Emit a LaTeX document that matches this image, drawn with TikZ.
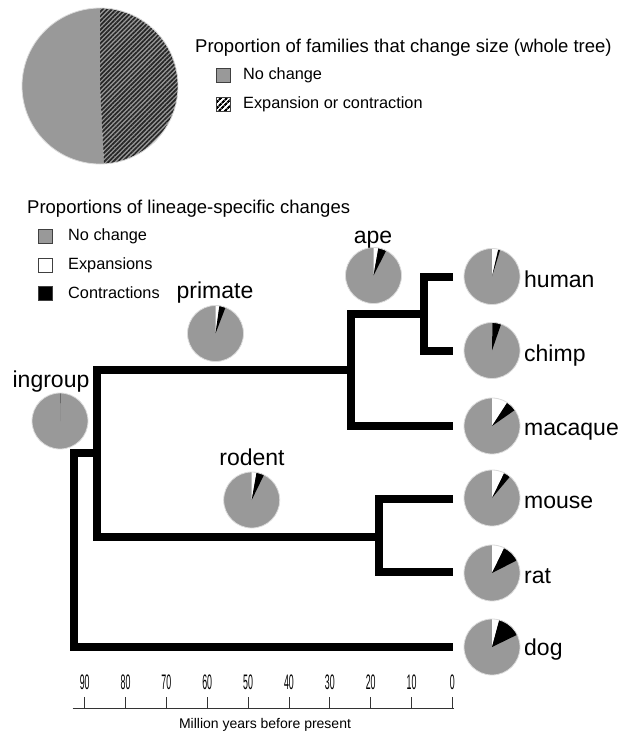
\documentclass[tikz,border=0pt]{standalone}
\usepackage{fontspec}
\setmainfont{Liberation Sans}
\usepackage{tikz}
\usetikzlibrary{patterns.meta}

\definecolor{piegray}{gray}{0.6}
\definecolor{pieedge}{gray}{0.86}

\tikzset{
  branch/.style={line width=8.5pt, line join=miter, line cap=butt},
  taxon/.style={inner sep=0pt, font=\fontsize{23}{26}\selectfont},
  keybox/.style={minimum size=14pt, inner sep=0pt, draw=black!75, line width=0.8pt},
  keytext/.style={inner sep=0pt, anchor=west, font=\fontsize{16.3}{18}\selectfont},
  keytitle/.style={inner sep=0pt, anchor=west, font=\fontsize{18.5}{22}\selectfont},
  ticklabel/.style={inner sep=0pt, font=\fontsize{21}{21}\selectfont}
}

% pie: centre, end of expansions, end of contractions (degrees clockwise from top)
\newcommand{\pieradius}{28}
\newcommand{\lineagepie}[3]{%
  \fill[piegray] (#1) circle[radius=\pieradius];
  \fill[white] (#1) -- ++(-90:\pieradius) arc[start angle=-90, end angle={-90+#2}, radius=\pieradius] -- cycle;
  \fill[black] (#1) -- ++({-90+#2}:\pieradius) arc[start angle={-90+#2}, end angle={-90+#3}, radius=\pieradius] -- cycle;
  \draw[pieedge, line width=0.8pt] (#1) circle[radius=\pieradius];
}

\begin{document}
\begin{tikzpicture}[x=1pt, y=-1pt]
    \useasboundingbox (0,0) rectangle (631,732);

    % Whole tree pie
    \coordinate (pie-tree) at (100,86);
    \fill[piegray] (pie-tree) -- ++(87:78) arc[start angle=87, end angle=270, radius=78] -- cycle;
    \fill[piegray] (pie-tree) -- ++(-90:78) arc[start angle=-90, end angle=87, radius=78] -- cycle;
    \fill[pattern={Lines[angle=45, distance=3.2pt, line width=1.7pt]}, pattern color=black!85]
        (pie-tree) -- ++(-90:78) arc[start angle=-90, end angle=87, radius=78] -- cycle;
    \draw[pieedge, line width=0.8pt] (pie-tree) circle[radius=78];

    % Whole tree legend
    \node[keytitle] (title-tree) at (195,48) {Proportion of families that change size (whole tree)};
    \node[keybox, fill=piegray] (key-same) at (223,75) {};
    \node[keybox, pattern={Lines[angle=45, distance=4pt, line width=2.2pt]}, pattern color=black] (key-change) at (223,104) {};
    \node[keytext] (text-same) at (243,75) {No change};
    \node[keytext] (text-change) at (243,104) {Expansion or contraction};

    % Lineage legend
    \node[keytitle] (title-lineage) at (27,209) {Proportions of lineage-specific changes};
    \node[keybox, fill=piegray] (key-none) at (45,236) {};
    \node[keybox, fill=white] (key-exp) at (45,265) {};
    \node[keybox, fill=black] (key-con) at (45,293) {};
    \node[keytext] (text-none) at (68,236) {No change};
    \node[keytext] (text-exp) at (68,265) {Expansions};
    \node[keytext] (text-con) at (68,293) {Contractions};

    % Tree
    \coordinate (humanE) at (453,277);
    \coordinate (chimpE) at (453,351);
    \coordinate (macaqueE) at (453,426);
    \coordinate (mouseE) at (453,499);
    \coordinate (ratE) at (453,572);
    \coordinate (dogE) at (453,647);
    \coordinate (apeN) at (424,314);
    \coordinate (primateN) at (351,370);
    \coordinate (rodentN) at (379,537);
    \coordinate (ingroupN) at (97,453);
    \coordinate (rootN) at (74,453);

    \draw[branch] (humanE) -| (apeN) |- (chimpE);
    \draw[branch] (apeN) -| (primateN) |- (macaqueE);
    \draw[branch] (mouseE) -| (rodentN) |- (ratE);
    \draw[branch] (primateN) -| (ingroupN) |- (rodentN);
    \draw[branch] (ingroupN) -- (rootN) |- (dogE);

    % Pies on the tree
    \coordinate (pie-ingroup) at (60,421);
    \coordinate (pie-primate) at (215.5,333.5);
    \coordinate (pie-ape) at (373.5,275.5);
    \coordinate (pie-rodent) at (251.7,500);
    \coordinate (pie-human) at (492,276.5);
    \coordinate (pie-chimp) at (492,350.5);
    \coordinate (pie-macaque) at (492,426);
    \coordinate (pie-mouse) at (492,498);
    \coordinate (pie-rat) at (492,573);
    \coordinate (pie-dog) at (492,647);

    \lineagepie{pie-ingroup}{0}{0.8}
    \lineagepie{pie-primate}{8}{21}
    \lineagepie{pie-ape}{10}{27}
    \lineagepie{pie-rodent}{10}{26}
    \lineagepie{pie-human}{13}{17}
    \lineagepie{pie-chimp}{1}{19}
    \lineagepie{pie-macaque}{33}{55}
    \lineagepie{pie-mouse}{26}{40}
    \lineagepie{pie-rat}{26}{63}
    \lineagepie{pie-dog}{15}{64}

    % Labels
    \node[taxon, anchor=base] (ingroup) at (51,387) {ingroup};
    \node[taxon, anchor=base] (primate) at (215,298) {primate};
    \node[taxon, anchor=base] (ape) at (373,243) {ape};
    \node[taxon, anchor=base] (rodent) at (252,465) {rodent};
    \node[taxon, anchor=base west] (human) at (524,287) {human};
    \node[taxon, anchor=base west] (chimp) at (524,361) {chimp};
    \node[taxon, anchor=base west] (macaque) at (524,435) {macaque};
    \node[taxon, anchor=base west] (mouse) at (524,508) {mouse};
    \node[taxon, anchor=base west] (rat) at (524,583) {rat};
    \node[taxon, anchor=base west] (dog) at (524,655) {dog};

    % Time axis
    \coordinate (axisL) at (72.6,708);
    \coordinate (axisR) at (453.6,708);
    \draw[line width=0.9pt, black!80] (axisL) -- (axisR);
    \foreach \t in {0,10,...,90} {
        \draw[line width=0.9pt, black!80] (452.4-4.086*\t,708) -- (452.4-4.086*\t,697);
        \node[ticklabel] (tick-\t) at (452.4-4.086*\t,682.5) {\scalebox{0.42}[1]{\t}};
    }
    \node[inner sep=0pt, anchor=base, font=\fontsize{14}{16}\selectfont] (axis-title) at (265,728) {Million years before present};
\end{tikzpicture}
\end{document}
